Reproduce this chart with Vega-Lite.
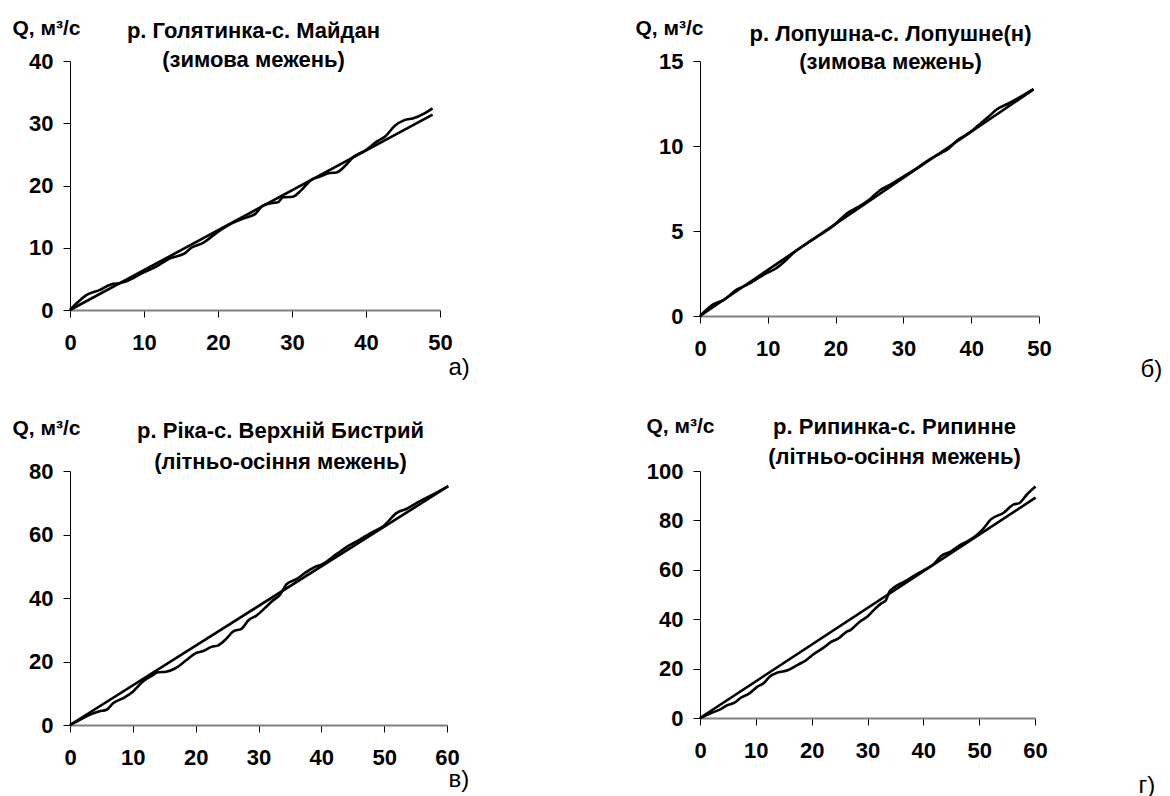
{
  "$schema": "https://vega.github.io/schema/vega-lite/v6.json",
  "background": "white",
  "padding": {"left": 12, "top": 17, "right": 0, "bottom": 0},
  "bounds": "flush",
  "columns": 2,
  "spacing": {"row": 155, "column": 253},
  "config": {
    "font": "Liberation Sans",
    "view": {"stroke": null},
    "axis": {"labelFontSize": 22, "labelFontWeight": "bold", "labelColor": "black", "tickColor": "black", "tickSize": 7, "tickWidth": 1, "grid": false, "titleColor": "black", "labelFont": "Liberation Sans", "titleFont": "Liberation Sans"},
    "axisX": {"domainColor": "#808080", "domainWidth": 2, "labelPadding": 15, "labelFlush": false},
    "axisY": {"domainColor": "black", "domainWidth": 1, "labelPadding": 10}
  },
  "concat": [
        {
          "width": 370, "height": 249,
          "data": {"values": [
            {"s": "obs", "t": 0, "q": 0}, {"s": "obs", "t": 1, "q": 1.2}, {"s": "obs", "t": 2.2, "q": 2.4}, {"s": "obs", "t": 4, "q": 3.2}, {"s": "obs", "t": 5.8, "q": 4.2}, {"s": "obs", "t": 6.7, "q": 4.3}, {"s": "obs", "t": 7.8, "q": 4.7}, {"s": "obs", "t": 9.9, "q": 6.0}, {"s": "obs", "t": 11.7, "q": 7.0}, {"s": "obs", "t": 13.5, "q": 8.3}, {"s": "obs", "t": 15.5, "q": 9.1}, {"s": "obs", "t": 16.4, "q": 10.0}, {"s": "obs", "t": 18, "q": 10.8}, {"s": "obs", "t": 19.8, "q": 12.4}, {"s": "obs", "t": 22, "q": 14.0}, {"s": "obs", "t": 23.4, "q": 14.7}, {"s": "obs", "t": 25, "q": 15.4}, {"s": "obs", "t": 26.1, "q": 16.8}, {"s": "obs", "t": 27.4, "q": 17.2}, {"s": "obs", "t": 28.1, "q": 17.3}, {"s": "obs", "t": 28.8, "q": 18.1}, {"s": "obs", "t": 30.1, "q": 18.2}, {"s": "obs", "t": 31.3, "q": 19.3}, {"s": "obs", "t": 32.6, "q": 20.9}, {"s": "obs", "t": 33.7, "q": 21.4}, {"s": "obs", "t": 35.1, "q": 22.0}, {"s": "obs", "t": 36, "q": 22.1}, {"s": "obs", "t": 37.3, "q": 23.3}, {"s": "obs", "t": 38.2, "q": 24.5}, {"s": "obs", "t": 40, "q": 25.7}, {"s": "obs", "t": 41.4, "q": 27.0}, {"s": "obs", "t": 42.7, "q": 28.0}, {"s": "obs", "t": 43.9, "q": 29.6}, {"s": "obs", "t": 45.2, "q": 30.5}, {"s": "obs", "t": 46.4, "q": 30.8}, {"s": "obs", "t": 47.9, "q": 31.6}, {"s": "obs", "t": 49, "q": 32.4},
            {"s": "fit", "t": 0, "q": 0}, {"s": "fit", "t": 49, "q": 31.4}
          ]},
          "layer": [
            {
              "transform": [{"filter": "datum.s === 'obs'"}],
              "mark": {"type": "line", "color": "black", "strokeWidth": 2.6, "interpolate": "monotone", "strokeJoin": "round"},
              "encoding": {
                "x": {"field": "t", "type": "quantitative", "scale": {"domain": [0, 50], "nice": false}, "axis": {"values": [0, 10, 20, 30, 40, 50], "title": "а)", "titleFontSize": 24, "titleFontWeight": "normal", "titleX": 378, "titleY": 57, "titleAlign": "left", "titleBaseline": "middle", "titleAnchor": null}},
                "y": {"field": "q", "type": "quantitative", "scale": {"domain": [0, 40], "nice": false}, "axis": {"values": [0, 10, 20, 30, 40], "title": "Q, м³/с", "titleAngle": 0, "titleFontSize": 21, "titleFontWeight": "bold", "titleX": -58, "titleY": -33, "titleAlign": "left", "titleBaseline": "middle"}}
              }
            },
            {
              "transform": [{"filter": "datum.s === 'fit'"}],
              "mark": {"type": "line", "color": "black", "strokeWidth": 2.6},
              "encoding": {
                "x": {"field": "t", "type": "quantitative", "scale": {"domain": [0, 50], "nice": false}, "axis": {"orient": "top", "labels": false, "ticks": false, "domain": false, "title": ["р. Голятинка-с. Майдан", "(зимова межень)"], "titleFontSize": 22, "titleFontWeight": "bold", "titleX": 183, "titleY": -31, "titleAlign": "center", "titleBaseline": "middle", "titleLineHeight": 29}},
                "y": {"field": "q", "type": "quantitative", "scale": {"domain": [0, 40], "nice": false}, "axis": null}
              }
            }
          ],
          "resolve": {"axis": {"x": "independent", "y": "independent"}}
        },
        {
          "width": 339, "height": 255,
          "data": {"values": [
            {"s": "obs", "t": 0, "q": 0}, {"s": "obs", "t": 2, "q": 0.7}, {"s": "obs", "t": 3.5, "q": 0.95}, {"s": "obs", "t": 5.4, "q": 1.55}, {"s": "obs", "t": 6.9, "q": 1.83}, {"s": "obs", "t": 8.8, "q": 2.28}, {"s": "obs", "t": 9.8, "q": 2.52}, {"s": "obs", "t": 11, "q": 2.75}, {"s": "obs", "t": 12.3, "q": 3.15}, {"s": "obs", "t": 13.8, "q": 3.72}, {"s": "obs", "t": 15.5, "q": 4.2}, {"s": "obs", "t": 17.5, "q": 4.72}, {"s": "obs", "t": 19.5, "q": 5.25}, {"s": "obs", "t": 21.9, "q": 6.1}, {"s": "obs", "t": 23.5, "q": 6.45}, {"s": "obs", "t": 25, "q": 6.85}, {"s": "obs", "t": 26.5, "q": 7.38}, {"s": "obs", "t": 28, "q": 7.72}, {"s": "obs", "t": 30, "q": 8.2}, {"s": "obs", "t": 32, "q": 8.7}, {"s": "obs", "t": 34, "q": 9.25}, {"s": "obs", "t": 35.4, "q": 9.55}, {"s": "obs", "t": 36.5, "q": 9.8}, {"s": "obs", "t": 38, "q": 10.35}, {"s": "obs", "t": 39.8, "q": 10.8}, {"s": "obs", "t": 41, "q": 11.2}, {"s": "obs", "t": 42.5, "q": 11.7}, {"s": "obs", "t": 43.75, "q": 12.15}, {"s": "obs", "t": 45.5, "q": 12.5}, {"s": "obs", "t": 47.5, "q": 12.95}, {"s": "obs", "t": 49.2, "q": 13.35},
            {"s": "fit", "t": 0, "q": 0}, {"s": "fit", "t": 49.2, "q": 13.33}
          ]},
          "layer": [
            {
              "transform": [{"filter": "datum.s === 'obs'"}],
              "mark": {"type": "line", "color": "black", "strokeWidth": 2.6, "interpolate": "monotone", "strokeJoin": "round"},
              "encoding": {
                "x": {"field": "t", "type": "quantitative", "scale": {"domain": [0, 50], "nice": false}, "axis": {"values": [0, 10, 20, 30, 40, 50], "title": "б)", "titleFontSize": 24, "titleFontWeight": "normal", "titleX": 440, "titleY": 53, "titleAlign": "left", "titleBaseline": "middle", "titleAnchor": null}},
                "y": {"field": "q", "type": "quantitative", "scale": {"domain": [0, 15], "nice": false}, "axis": {"values": [0, 5, 10, 15], "title": "Q,  м³/с", "titleAngle": 0, "titleFontSize": 21, "titleFontWeight": "bold", "titleX": -65, "titleY": -33, "titleAlign": "left", "titleBaseline": "middle"}}
              }
            },
            {
              "transform": [{"filter": "datum.s === 'fit'"}],
              "mark": {"type": "line", "color": "black", "strokeWidth": 2.6},
              "encoding": {
                "x": {"field": "t", "type": "quantitative", "scale": {"domain": [0, 50], "nice": false}, "axis": {"orient": "top", "labels": false, "ticks": false, "domain": false, "title": ["р. Лопушна-с. Лопушне(н)", "(зимова межень)"], "titleFontSize": 22, "titleFontWeight": "bold", "titleX": 190, "titleY": -28, "titleAlign": "center", "titleBaseline": "middle", "titleLineHeight": 28}},
                "y": {"field": "q", "type": "quantitative", "scale": {"domain": [0, 15], "nice": false}, "axis": null}
              }
            }
          ],
          "resolve": {"axis": {"x": "independent", "y": "independent"}}
        },
        {
          "width": 377, "height": 254,
          "data": {"values": [
            {"s": "obs", "t": 0, "q": 0}, {"s": "obs", "t": 2.1, "q": 2.2}, {"s": "obs", "t": 3.1, "q": 3.2}, {"s": "obs", "t": 4.7, "q": 4.3}, {"s": "obs", "t": 5.8, "q": 4.8}, {"s": "obs", "t": 6.9, "q": 6.9}, {"s": "obs", "t": 8.7, "q": 8.7}, {"s": "obs", "t": 10.0, "q": 10.5}, {"s": "obs", "t": 11.6, "q": 13.7}, {"s": "obs", "t": 13.0, "q": 15.5}, {"s": "obs", "t": 14.0, "q": 16.6}, {"s": "obs", "t": 15.3, "q": 16.8}, {"s": "obs", "t": 16.7, "q": 17.8}, {"s": "obs", "t": 18.5, "q": 20.4}, {"s": "obs", "t": 19.9, "q": 22.5}, {"s": "obs", "t": 21.2, "q": 23.3}, {"s": "obs", "t": 22.5, "q": 24.6}, {"s": "obs", "t": 23.6, "q": 25.1}, {"s": "obs", "t": 24.9, "q": 27.2}, {"s": "obs", "t": 26.0, "q": 29.5}, {"s": "obs", "t": 27.3, "q": 30.3}, {"s": "obs", "t": 28.4, "q": 33.0}, {"s": "obs", "t": 29.7, "q": 34.5}, {"s": "obs", "t": 31.0, "q": 36.8}, {"s": "obs", "t": 32.1, "q": 38.9}, {"s": "obs", "t": 33.4, "q": 41.0}, {"s": "obs", "t": 34.5, "q": 44.4}, {"s": "obs", "t": 36.1, "q": 46.0}, {"s": "obs", "t": 37.4, "q": 47.9}, {"s": "obs", "t": 39.0, "q": 49.8}, {"s": "obs", "t": 40.0, "q": 50.5}, {"s": "obs", "t": 42.4, "q": 53.8}, {"s": "obs", "t": 44.3, "q": 56.4}, {"s": "obs", "t": 46.2, "q": 58.5}, {"s": "obs", "t": 47.7, "q": 60.3}, {"s": "obs", "t": 49.9, "q": 62.7}, {"s": "obs", "t": 52.0, "q": 66.8}, {"s": "obs", "t": 53.6, "q": 68.1}, {"s": "obs", "t": 55.7, "q": 70.5}, {"s": "obs", "t": 57.8, "q": 72.6}, {"s": "obs", "t": 60.2, "q": 75.2},
            {"s": "fit", "t": 0, "q": 0}, {"s": "fit", "t": 60.2, "q": 75.2}
          ]},
          "layer": [
            {
              "transform": [{"filter": "datum.s === 'obs'"}],
              "mark": {"type": "line", "color": "black", "strokeWidth": 2.6, "interpolate": "monotone", "strokeJoin": "round"},
              "encoding": {
                "x": {"field": "t", "type": "quantitative", "scale": {"domain": [0, 60], "nice": false}, "axis": {"values": [0, 10, 20, 30, 40, 50, 60], "title": "в)", "titleFontSize": 24, "titleFontWeight": "normal", "titleX": 378, "titleY": 54, "titleAlign": "left", "titleBaseline": "middle", "titleAnchor": null}},
                "y": {"field": "q", "type": "quantitative", "scale": {"domain": [0, 80], "nice": false}, "axis": {"values": [0, 20, 40, 60, 80], "title": "Q,  м³/с", "titleAngle": 0, "titleFontSize": 21, "titleFontWeight": "bold", "titleX": -58, "titleY": -43, "titleAlign": "left", "titleBaseline": "middle"}}
              }
            },
            {
              "transform": [{"filter": "datum.s === 'fit'"}],
              "mark": {"type": "line", "color": "black", "strokeWidth": 2.6},
              "encoding": {
                "x": {"field": "t", "type": "quantitative", "scale": {"domain": [0, 60], "nice": false}, "axis": {"orient": "top", "labels": false, "ticks": false, "domain": false, "title": ["р. Ріка-с. Верхній Бистрий", "(літньо-осіння межень)"], "titleFontSize": 22, "titleFontWeight": "bold", "titleX": 210, "titleY": -41, "titleAlign": "center", "titleBaseline": "middle", "titleLineHeight": 31}},
                "y": {"field": "q", "type": "quantitative", "scale": {"domain": [0, 80], "nice": false}, "axis": null}
              }
            }
          ],
          "resolve": {"axis": {"x": "independent", "y": "independent"}}
        },
        {
          "width": 335, "height": 247,
          "data": {"values": [
            {"s": "obs", "t": 0, "q": 0}, {"s": "obs", "t": 2.0, "q": 2.0}, {"s": "obs", "t": 3.8, "q": 3.7}, {"s": "obs", "t": 4.9, "q": 5.2}, {"s": "obs", "t": 6.1, "q": 6.1}, {"s": "obs", "t": 7.3, "q": 8.2}, {"s": "obs", "t": 8.8, "q": 9.9}, {"s": "obs", "t": 10.3, "q": 12.7}, {"s": "obs", "t": 11.5, "q": 14.3}, {"s": "obs", "t": 12.4, "q": 16.6}, {"s": "obs", "t": 13.9, "q": 18.4}, {"s": "obs", "t": 15.7, "q": 19.3}, {"s": "obs", "t": 17.5, "q": 21.5}, {"s": "obs", "t": 19.0, "q": 23.4}, {"s": "obs", "t": 20.2, "q": 25.6}, {"s": "obs", "t": 22.2, "q": 28.6}, {"s": "obs", "t": 23.4, "q": 30.7}, {"s": "obs", "t": 24.9, "q": 32.4}, {"s": "obs", "t": 26.1, "q": 34.7}, {"s": "obs", "t": 27.0, "q": 35.7}, {"s": "obs", "t": 28.5, "q": 38.8}, {"s": "obs", "t": 30.0, "q": 41.1}, {"s": "obs", "t": 31.2, "q": 43.9}, {"s": "obs", "t": 32.4, "q": 46.3}, {"s": "obs", "t": 33.3, "q": 47.7}, {"s": "obs", "t": 33.9, "q": 51.1}, {"s": "obs", "t": 34.8, "q": 52.9}, {"s": "obs", "t": 36.6, "q": 55.2}, {"s": "obs", "t": 38.3, "q": 57.5}, {"s": "obs", "t": 40.1, "q": 59.9}, {"s": "obs", "t": 41.9, "q": 62.4}, {"s": "obs", "t": 43.1, "q": 65.4}, {"s": "obs", "t": 44.9, "q": 67.4}, {"s": "obs", "t": 46.7, "q": 70.2}, {"s": "obs", "t": 48.2, "q": 71.9}, {"s": "obs", "t": 49.7, "q": 74.3}, {"s": "obs", "t": 50.6, "q": 76.3}, {"s": "obs", "t": 52.1, "q": 80.4}, {"s": "obs", "t": 54.4, "q": 83.1}, {"s": "obs", "t": 56.2, "q": 86.5}, {"s": "obs", "t": 57.1, "q": 86.9}, {"s": "obs", "t": 58.6, "q": 90.6}, {"s": "obs", "t": 60.1, "q": 93.7},
            {"s": "fit", "t": 0, "q": 0}, {"s": "fit", "t": 60.1, "q": 89.2}
          ]},
          "layer": [
            {
              "transform": [{"filter": "datum.s === 'obs'"}],
              "mark": {"type": "line", "color": "black", "strokeWidth": 2.6, "interpolate": "monotone", "strokeJoin": "round"},
              "encoding": {
                "x": {"field": "t", "type": "quantitative", "scale": {"domain": [0, 60], "nice": false}, "axis": {"values": [0, 10, 20, 30, 40, 50, 60], "title": "г)", "titleFontSize": 24, "titleFontWeight": "normal", "titleX": 438, "titleY": 67, "titleAlign": "left", "titleBaseline": "middle", "titleAnchor": null}},
                "y": {"field": "q", "type": "quantitative", "scale": {"domain": [0, 100], "nice": false}, "axis": {"values": [0, 20, 40, 60, 80, 100], "title": "Q,  м³/с", "titleAngle": 0, "titleFontSize": 21, "titleFontWeight": "bold", "titleX": -54, "titleY": -45, "titleAlign": "left", "titleBaseline": "middle"}}
              }
            },
            {
              "transform": [{"filter": "datum.s === 'fit'"}],
              "mark": {"type": "line", "color": "black", "strokeWidth": 2.6},
              "encoding": {
                "x": {"field": "t", "type": "quantitative", "scale": {"domain": [0, 60], "nice": false}, "axis": {"orient": "top", "labels": false, "ticks": false, "domain": false, "title": ["р. Рипинка-с. Рипинне", "(літньо-осіння межень)"], "titleFontSize": 22, "titleFontWeight": "bold", "titleX": 194, "titleY": -45, "titleAlign": "center", "titleBaseline": "middle", "titleLineHeight": 30}},
                "y": {"field": "q", "type": "quantitative", "scale": {"domain": [0, 100], "nice": false}, "axis": null}
              }
            }
          ],
          "resolve": {"axis": {"x": "independent", "y": "independent"}}
        }
  ]
}
